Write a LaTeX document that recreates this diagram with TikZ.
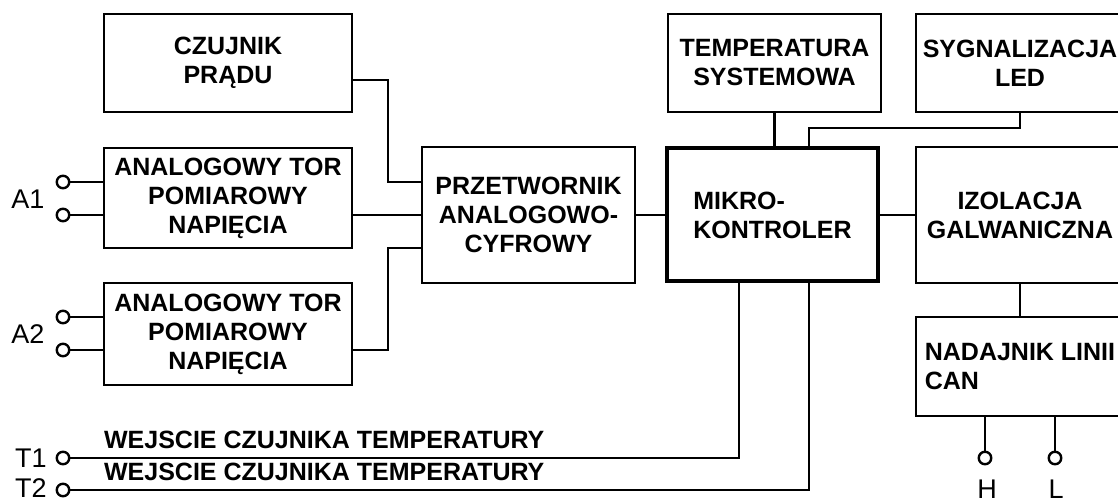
\documentclass[tikz,border=0pt]{standalone}
\usepackage{fontspec}
\setmainfont{Liberation Sans}
\begin{document}
\begin{tikzpicture}[x=1pt,y=-1pt,
  line width=2.2pt,
  blk/.style={draw, line width=2.2pt, inner sep=0pt, align=center,
    font=\fontsize{25}{29}\selectfont\bfseries},
  term/.style={circle, draw, fill=white, line width=2.4pt, minimum size=12.5pt, inner sep=0pt},
  lbl/.style={font=\fontsize{27}{30}\selectfont, inner sep=0pt},
  wlbl/.style={font=\fontsize{25}{29}\selectfont\bfseries, inner sep=0pt, anchor=base west}]
\clip (0,0) rectangle (1118,502);
\fill[white] (0,0) rectangle (1118,502);
% blocks
\node[blk, minimum width=248pt, minimum height=98pt] (czuj) at (228,63) {CZUJNIK\\PRĄDU};
\node[blk, minimum width=248pt, minimum height=100pt] (an1) at (228,198) {ANALOGOWY TOR\\POMIAROWY\\NAPIĘCIA};
\node[blk, minimum width=248pt, minimum height=102pt] (an2) at (228,334) {ANALOGOWY TOR\\POMIAROWY\\NAPIĘCIA};
\node[blk, minimum width=213pt, minimum height=136pt] (adc) at (528.5,215) {PRZETWORNIK\\ANALOGOWO-\\CYFROWY};
\node[blk, line width=4pt, align=left, minimum width=211pt, minimum height=133pt] (mcu) at (772.5,215) {MIKRO-\\KONTROLER};
\node[blk, minimum width=213pt, minimum height=98pt] (temp) at (774.5,63) {TEMPERATURA\\SYSTEMOWA};
\node[blk, minimum width=208pt, minimum height=98pt] (led) at (1020,63) {SYGNALIZACJA\\LED};
\node[blk, minimum width=208pt, minimum height=136pt] (izol) at (1020,215) {IZOLACJA\\GALWANICZNA};
\node[blk, align=left, minimum width=208pt, minimum height=99pt] (can) at (1020,366.5) {NADAJNIK LINII\\CAN};
% terminals
\node[term] (a1p) at (63,182) {};
\node[term] (a1n) at (63,215) {};
\node[term] (a2p) at (63,317) {};
\node[term] (a2n) at (63,350) {};
\node[term] (t1) at (63,458) {};
\node[term] (t2) at (63,490) {};
\node[term] (h) at (985,458) {};
\node[term] (l) at (1055,458) {};
% labels
\node[lbl] (la1) at (28,199) {A1};
\node[lbl] (la2) at (28,334) {A2};
\node[lbl] (lt1) at (31,458) {T1};
\node[lbl] (lt2) at (31,488) {T2};
\node[lbl] (lh) at (987,489) {H};
\node[lbl] (ll) at (1056,489) {L};
\node[wlbl] (w1) at (103,448) {WEJSCIE CZUJNIKA TEMPERATURY};
\node[wlbl] (w2) at (103,480) {WEJSCIE CZUJNIKA TEMPERATURY};
% connectors
\draw (a1p) -- (a1p -| an1.west);
\draw (a1n) -- (a1n -| an1.west);
\draw (a2p) -- (a2p -| an2.west);
\draw (a2n) -- (a2n -| an2.west);
\draw ([yshift=-17pt]czuj.east) -- ++(35,0) |- ([yshift=33pt]adc.west);
\draw ([yshift=-17pt]an1.east) -- (adc.west);
\draw ([yshift=-16pt]an2.east) -- ++(35,0) |- ([yshift=-33pt]adc.west);
\draw (adc.east) -- (mcu.west);
\draw (temp.south) -- (temp.south |- mcu.north);
\draw (led.south) -- ++(0,15) -| ([xshift=36.5pt]mcu.north);
\draw (mcu.east) -- (izol.west);
\draw (izol.south) -- (can.north);
\draw (can.south -| h) -- (h);
\draw (can.south -| l) -- (l);
\draw ([xshift=-33.5pt]mcu.south) |- (t1);
\draw ([xshift=36.5pt]mcu.south) |- (t2);
\end{tikzpicture}
\end{document}
